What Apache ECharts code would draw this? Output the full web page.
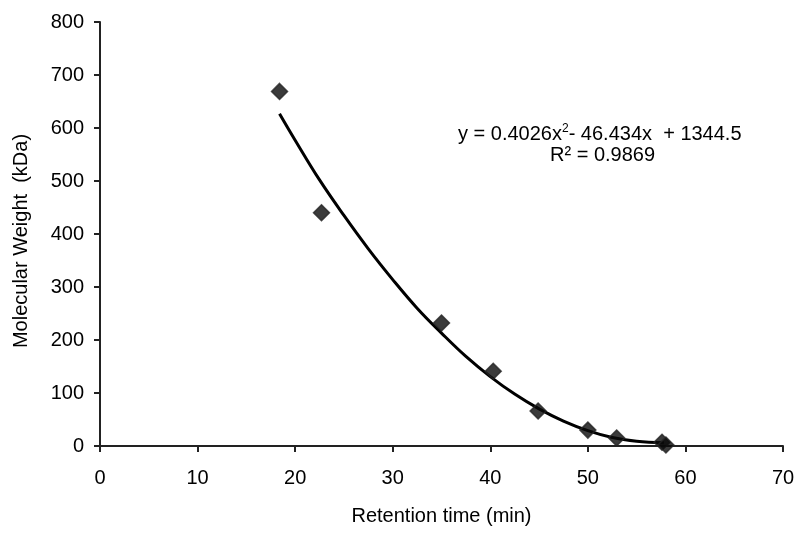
<!DOCTYPE html>
<html>
<head>
<meta charset="utf-8">
<script src="https://cdn.jsdelivr.net/npm/echarts@6/dist/echarts.min.js"></script>
<style>html,body{margin:0;padding:0;background:#fff}#c{width:802px;height:533px}</style>
</head>
<body>
<div id="c"></div>
<script>
const retentionTime = [18.4, 22.7, 35.0, 40.3, 44.9, 50.0, 52.95, 57.6, 58.0];
const molecularWeight = [669, 440, 232, 141, 66, 30, 15, 7, 2];
const trendX = [18.4, 20, 22.5, 25, 27.5, 30, 32.5, 35, 37.5, 40, 42.5, 45, 47.5, 50, 52.5, 55, 57.8];
const trendY = [627, 577, 502, 435, 372, 314, 260, 213, 169, 131, 98, 70, 47, 29, 16, 9, 6];
const xTicks = [0, 10, 20, 30, 40, 50, 60, 70];
const yTicks = [0, 100, 200, 300, 400, 500, 600, 700, 800];

const font = 'Liberation Sans, Arial, sans-serif';
const chart = echarts.init(document.getElementById('c'), null, {renderer: 'canvas'});
chart.setOption({
  animation: false,
  backgroundColor: '#fff',
  grid: {left: 100, right: 19, top: 22, bottom: 87, containLabel: false},
  xAxis: {
    type: 'value', min: xTicks[0], max: xTicks[xTicks.length - 1], interval: 10,
    name: 'Retention time (min)', nameLocation: 'middle', nameGap: 60,
    nameTextStyle: {fontFamily: font, fontSize: 20, color: '#000'},
    axisLine: {show: true, onZero: false, lineStyle: {color: '#222', width: 2}},
    axisTick: {show: true, inside: false, length: 6, lineStyle: {color: '#222', width: 2}},
    axisLabel: {fontFamily: font, fontSize: 20, color: '#000', margin: 22},
    splitLine: {show: false}
  },
  yAxis: {
    type: 'value', min: yTicks[0], max: yTicks[yTicks.length - 1], interval: 100,
    name: 'Molecular Weight  (kDa)', nameLocation: 'middle', nameGap: 69,
    nameTextStyle: {fontFamily: font, fontSize: 20, color: '#000', padding: [0, 14, 0, 0]},
    axisLine: {show: true, onZero: false, lineStyle: {color: '#222', width: 2}},
    axisTick: {show: true, inside: false, length: 6, lineStyle: {color: '#222', width: 2}},
    axisLabel: {fontFamily: font, fontSize: 20, color: '#000', margin: 16},
    splitLine: {show: false}
  },
  series: [
    {
      type: 'line', smooth: 0.4, showSymbol: false, symbol: 'none',
      data: trendX.map((x, i) => [x, trendY[i]]),
      lineStyle: {color: '#000', width: 3}, z: 2
    },
    {
      type: 'scatter', symbol: 'diamond', symbolSize: [16, 16],
      data: retentionTime.map((x, i) => [x, molecularWeight[i]]),
      itemStyle: {color: '#0a0a0a', borderColor: '#262626', borderWidth: 1.5}, z: 3
    }
  ],
  graphic: [
    {
      type: 'text', left: 458, top: 123,
      style: {
        text: '{a|y = 0.4026x}{s|2}{a|- 46.434x  + 1344.5}',
        rich: {
          a: {fontFamily: font, fontSize: 20, fill: '#000', lineHeight: 22},
          s: {fontFamily: font, fontSize: 12, fill: '#000', verticalAlign: 'top', lineHeight: 22, padding: [0, 0, 10, 0]}
        }
      }
    },
    {
      type: 'text', left: 550, top: 144,
      style: {text: 'R² = 0.9869', fontFamily: font, fontSize: 20, fill: '#000', lineHeight: 22}
    }
  ]
});
</script>
</body>
</html>
